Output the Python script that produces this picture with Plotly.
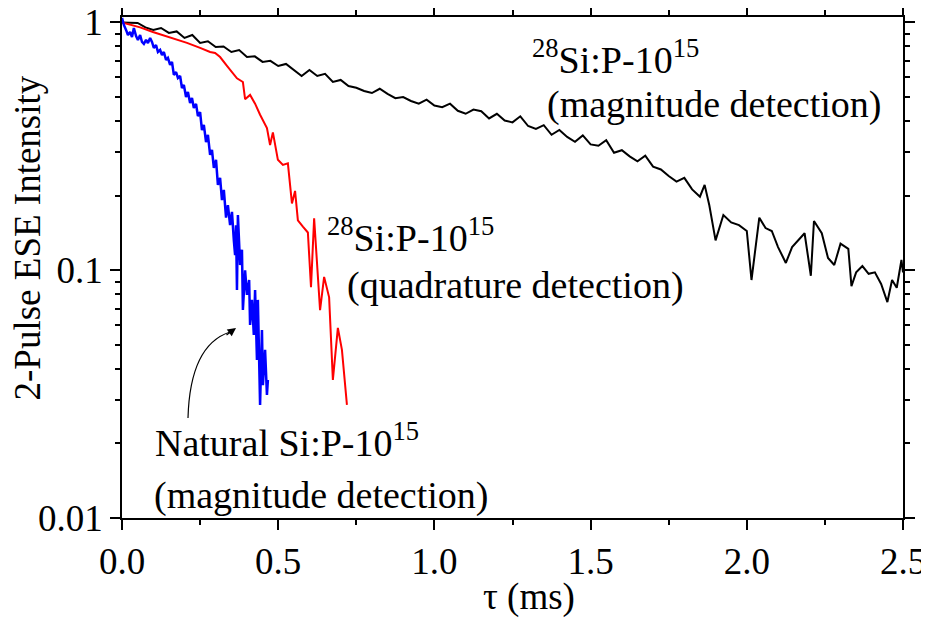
import plotly.graph_objects as go

# tau in ms, 2-pulse ESE intensity
tau_28si_mag = [0.000, 0.025, 0.050, 0.075, 0.100, 0.125, 0.150, 0.175, 0.200, 0.225,
                0.250, 0.275, 0.300, 0.325, 0.350, 0.375, 0.400, 0.425, 0.450, 0.475,
                0.500, 0.525, 0.550, 0.575, 0.600, 0.625, 0.650, 0.675, 0.700, 0.725,
                0.750, 0.775, 0.800, 0.825, 0.850,
                0.875, 0.900, 0.925, 0.950, 0.975, 1.000, 1.025, 1.050, 1.075, 1.100,
                1.125, 1.150, 1.175, 1.200, 1.225, 1.250, 1.275, 1.300, 1.325, 1.350,
                1.375, 1.400, 1.425, 1.450, 1.475, 1.500, 1.525, 1.550, 1.575, 1.600,
                1.625, 1.650, 1.675, 1.700, 1.725, 1.750, 1.775, 1.800, 1.825, 1.850,
                1.865, 1.880, 1.900, 1.925, 1.950, 1.975, 2.000,
                2.015, 2.040, 2.060, 2.080, 2.100, 2.125, 2.145, 2.165, 2.185, 2.205,
                2.215, 2.240, 2.260, 2.280, 2.300, 2.325, 2.335, 2.350, 2.370, 2.390,
                2.410, 2.430, 2.450, 2.465, 2.480, 2.495, 2.500]
ese_28si_mag = [1.0, 1.0, 0.995, 0.955, 0.933, 0.950, 0.907, 0.920, 0.866, 0.890,
                0.827, 0.840, 0.796, 0.800, 0.760, 0.774, 0.726, 0.730, 0.693, 0.700,
                0.667, 0.680, 0.643, 0.608, 0.643, 0.608, 0.620, 0.575, 0.586, 0.554,
                0.545, 0.529, 0.519, 0.540, 0.515,
                0.495, 0.500, 0.482, 0.470, 0.488, 0.462, 0.455, 0.470, 0.440, 0.428,
                0.445, 0.438, 0.410, 0.428, 0.402, 0.395, 0.418, 0.382, 0.372, 0.385,
                0.352, 0.368, 0.345, 0.330, 0.350, 0.322, 0.318, 0.335, 0.298, 0.305,
                0.288, 0.275, 0.290, 0.262, 0.255, 0.240, 0.228, 0.236, 0.212, 0.198,
                0.221, 0.183, 0.132, 0.167, 0.156, 0.152, 0.144,
                0.0913, 0.163, 0.148, 0.144, 0.124, 0.107, 0.124, 0.132, 0.141, 0.095,
                0.158, 0.141, 0.112, 0.105, 0.128, 0.122, 0.0863, 0.098, 0.104, 0.0967,
                0.098, 0.088, 0.0744, 0.0913, 0.085, 0.110, 0.098]

tau_28si_quad = [0.000, 0.058, 0.099, 0.154, 0.208, 0.250, 0.282, 0.298, 0.314, 0.336,
                 0.355, 0.368, 0.387, 0.394, 0.410, 0.426, 0.442, 0.464, 0.474, 0.483,
                 0.499, 0.515, 0.531, 0.544, 0.554, 0.563, 0.579, 0.595, 0.605, 0.615,
                 0.634, 0.647, 0.663, 0.675, 0.691, 0.704, 0.720]
ese_28si_quad = [1.00, 0.955, 0.915, 0.87, 0.827, 0.79, 0.76, 0.753, 0.725, 0.668,
                 0.62, 0.595, 0.575, 0.49, 0.51, 0.47, 0.424, 0.375, 0.32, 0.36,
                 0.279, 0.266, 0.27, 0.186, 0.209, 0.159, 0.15, 0.142, 0.0855, 0.162,
                 0.069, 0.094, 0.0777, 0.0361, 0.0585, 0.0477, 0.0286]

tau_nat_mag = [0.000, 0.006, 0.013, 0.019, 0.026, 0.032, 0.038, 0.045, 0.051, 0.058,
               0.064, 0.070, 0.077, 0.083, 0.090, 0.096, 0.102, 0.109, 0.115, 0.122,
               0.128, 0.134, 0.141, 0.147, 0.154, 0.160, 0.166, 0.173, 0.179, 0.186,
               0.192, 0.198, 0.205, 0.211, 0.218, 0.224, 0.230, 0.237, 0.243, 0.250,
               0.256, 0.262, 0.269, 0.275, 0.282, 0.288, 0.294, 0.301, 0.307, 0.314,
               0.320, 0.326, 0.333, 0.339, 0.346, 0.352, 0.358, 0.362, 0.365, 0.368,
               0.371, 0.378, 0.384, 0.387, 0.394, 0.400, 0.407, 0.410, 0.416, 0.422,
               0.426, 0.432, 0.435, 0.442, 0.448, 0.451, 0.458, 0.464, 0.467]
ese_nat_mag = [1.043, 0.977, 0.933, 0.890, 0.915, 0.874, 0.950, 0.882, 0.850, 0.890,
               0.834, 0.819, 0.850, 0.826, 0.866, 0.834, 0.789, 0.811, 0.760, 0.774,
               0.739, 0.760, 0.706, 0.719, 0.674, 0.693, 0.614, 0.631, 0.597, 0.608,
               0.544, 0.559, 0.500, 0.524, 0.473, 0.496, 0.452, 0.469, 0.419, 0.435,
               0.368, 0.386, 0.329, 0.352, 0.292, 0.306, 0.259, 0.279, 0.221, 0.236,
               0.192, 0.211, 0.163, 0.183, 0.152, 0.172, 0.132, 0.115, 0.152, 0.0832,
               0.167, 0.105, 0.121, 0.0691, 0.100, 0.0795, 0.0913, 0.0601, 0.0759, 0.0548,
               0.0832, 0.0434, 0.0759, 0.0286, 0.0574, 0.0344, 0.0477, 0.0314, 0.0361]

x_ticks = [0.0, 0.5, 1.0, 1.5, 2.0, 2.5]
x_ticktext = ["0.0", "0.5", "1.0", "1.5", "2.0", "2.5"]
y_ticks = [0.01, 0.1, 1]
y_ticktext = ["0.01", "0.1", "1"]
y_minor = [m * d for d in (0.01, 0.1) for m in range(2, 10)]

FONT = "Liberation Serif, Times New Roman, Times, serif"

fig = go.Figure()

fig.add_trace(go.Scatter(x=tau_28si_mag, y=ese_28si_mag, mode='lines',
                         line=dict(color='#000000', width=2)))
fig.add_trace(go.Scatter(x=tau_28si_quad, y=ese_28si_quad, mode='lines',
                         line=dict(color='#ff0000', width=2)))
fig.add_trace(go.Scatter(x=tau_nat_mag, y=ese_nat_mag, mode='lines',
                         line=dict(color='#0000ff', width=2.5)))

# labels, placed in paper coords
labels = [
    (0.5230, 0.920, "<sup>28</sup>Si:P-10<sup>15</sup>"),
    (0.5416, 0.825, "(magnitude detection)"),
    (0.2600, 0.565, "<sup>28</sup>Si:P-10<sup>15</sup>"),
    (0.2855, 0.465, "(quadrature detection)"),
    (0.0397, 0.155, "Natural Si:P-10<sup>15</sup>"),
    (0.0384, 0.045, "(magnitude detection)"),
]
for lx, ly, txt in labels:
    fig.add_annotation(x=lx, y=ly, xref='paper', yref='paper', text=txt,
                       showarrow=False, xanchor='left', yanchor='middle',
                       font=dict(family=FONT, size=38, color='black'))

# curved pointer to the blue curve
fig.add_shape(type='path', xref='paper', yref='paper',
              path='M 0.0845 0.1996 Q 0.0871 0.3453 0.1383 0.3713',
              line=dict(color='black', width=1.2))
fig.add_annotation(x=0.146, y=0.3792, xref='paper', yref='paper', text='',
                   showarrow=True, ax=-11, ay=8, arrowhead=2, arrowsize=1.4,
                   arrowwidth=1.2, arrowcolor='black')

# axis titles
fig.add_annotation(x=0.5205, y=-0.158, xref='paper', yref='paper', text="τ (ms)",
                   showarrow=False, xanchor='center', yanchor='middle',
                   font=dict(family=FONT, size=37, color='black'))
fig.add_annotation(x=-0.1216, y=0.558, xref='paper', yref='paper',
                   text="2-Pulse ESE Intensity", textangle=-90,
                   showarrow=False, xanchor='center', yanchor='middle',
                   font=dict(family=FONT, size=37, color='black'))

fig.update_xaxes(range=[0, 2.5], tickvals=x_ticks, ticktext=x_ticktext,
                 ticks='outside', ticklen=10, tickwidth=1.5, tickcolor='black',
                 showline=True, linecolor='black', linewidth=1.5, mirror='ticks',
                 showgrid=False, zeroline=False, automargin=False,
                 ticklabeloverflow='allow',
                 minor=dict(dtick=0.25, ticks='outside', ticklen=5, tickwidth=1.5,
                            tickcolor='black', showgrid=False),
                 tickfont=dict(family=FONT, size=37, color='black'))
fig.update_yaxes(type='log', range=[-2, 0.022], tickvals=y_ticks, ticktext=y_ticktext,
                 ticks='outside', ticklen=10, tickwidth=1.5, tickcolor='black',
                 showline=True, linecolor='black', linewidth=1.5, mirror='ticks',
                 showgrid=False, zeroline=False, automargin=False,
                 ticklabeloverflow='allow',
                 minor=dict(tickvals=y_minor, ticks='outside', ticklen=5, tickwidth=1.5,
                            tickcolor='black', showgrid=False),
                 tickfont=dict(family=FONT, size=37, color='black'))

# page body adds an 8px offset, so the figure is a bit smaller and margins shifted
fig.update_layout(width=921, height=612, showlegend=False,
                  margin=dict(l=114, r=26, t=9, b=102),
                  plot_bgcolor='white', paper_bgcolor='white',
                  font=dict(family=FONT, color='black'))

fig.write_html("out.html")
